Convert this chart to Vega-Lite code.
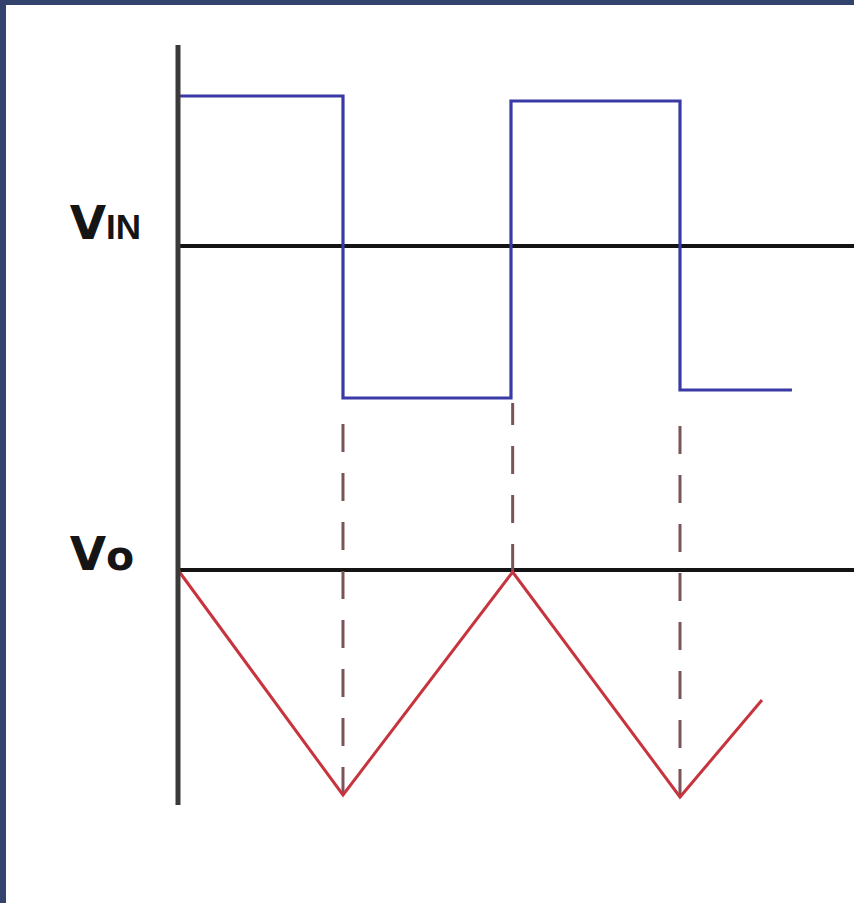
{
  "$schema": "https://vega.github.io/schema/vega-lite/v6.json",
  "width": 848,
  "height": 898,
  "autosize": "none",
  "padding": {"left": 6, "top": 5, "right": 0, "bottom": 0},
  "background": "#34426e",
  "config": {"view": {"stroke": null, "fill": "#ffffff"}},
  "datasets": {
    "axis": [{"t": 0, "v": 0.98, "v2": 8.58}],
    "baselines": [{"name": "VIN", "t": 0, "t2": 4.04, "v": 6.57}, {"name": "VO", "t": 0, "t2": 4.04, "v": 3.33}],
    "guides": [{"t": 0.986, "v": 1.08, "v2": 4.95}, {"t": 2.0, "v": 3.31, "v2": 5.0}, {"t": 3.0, "v": 1.06, "v2": 4.95}],
    "vin": [
      {"i": 0, "t": 0, "v": 8.07},
      {"i": 1, "t": 0.986, "v": 8.07},
      {"i": 2, "t": 0.986, "v": 5.05},
      {"i": 3, "t": 1.99, "v": 5.05},
      {"i": 4, "t": 1.99, "v": 8.02},
      {"i": 5, "t": 3.0, "v": 8.02},
      {"i": 6, "t": 3.0, "v": 5.13},
      {"i": 7, "t": 3.669, "v": 5.13}
    ],
    "vo": [
      {"i": 0, "t": 0, "v": 3.33},
      {"i": 1, "t": 0.986, "v": 1.08},
      {"i": 2, "t": 2.0, "v": 3.31},
      {"i": 3, "t": 3.0, "v": 1.06},
      {"i": 4, "t": 3.49, "v": 2.03}
    ],
    "bigV": [{"t": -0.43, "v": 6.64, "label": "V"}, {"t": -0.43, "v": 3.33, "label": "V"}],
    "subIN": [{"t": -0.43, "v": 6.64, "label": "IN"}],
    "subO": [{"t": -0.43, "v": 3.33, "label": "o"}]
  },
  "layer": [
    {
      "data": {"name": "baselines"},
      "mark": {"type": "rule", "color": "#141414", "strokeWidth": 4},
      "encoding": {
        "x": {"field": "t", "type": "quantitative", "scale": {"domain": [-1.02791, 4.03992], "nice": false, "zero": false}, "axis": null},
        "x2": {"field": "t2"},
        "y": {"field": "v", "type": "quantitative", "scale": {"domain": [0, 8.98], "nice": false, "zero": false}, "axis": null}
      }
    },
    {
      "data": {"name": "guides"},
      "mark": {"type": "rule", "color": "#7a5458", "strokeWidth": 3, "strokeDash": [28, 21]},
      "encoding": {
        "x": {"field": "t", "type": "quantitative"},
        "y": {"field": "v", "type": "quantitative"},
        "y2": {"field": "v2"}
      }
    },
    {
      "data": {"name": "vin"},
      "mark": {"type": "line", "color": "#3a3aa6", "strokeWidth": 3.2, "strokeJoin": "miter"},
      "encoding": {
        "x": {"field": "t", "type": "quantitative"},
        "y": {"field": "v", "type": "quantitative"},
        "order": {"field": "i", "type": "quantitative"}
      }
    },
    {
      "data": {"name": "vo"},
      "mark": {"type": "line", "color": "#c8343e", "strokeWidth": 3, "strokeJoin": "miter"},
      "encoding": {
        "x": {"field": "t", "type": "quantitative"},
        "y": {"field": "v", "type": "quantitative"},
        "order": {"field": "i", "type": "quantitative"}
      }
    },
    {
      "data": {"name": "axis"},
      "mark": {"type": "rule", "color": "#3a3a3a", "strokeWidth": 5},
      "encoding": {
        "x": {"field": "t", "type": "quantitative"},
        "y": {"field": "v", "type": "quantitative"},
        "y2": {"field": "v2"}
      }
    },
    {
      "data": {"name": "bigV"},
      "mark": {"type": "text", "font": "DejaVu Sans", "fontWeight": "bold", "fontSize": 47, "align": "right", "baseline": "alphabetic", "color": "#151515"},
      "encoding": {
        "x": {"field": "t", "type": "quantitative"},
        "y": {"field": "v", "type": "quantitative"},
        "text": {"field": "label"}
      }
    },
    {
      "data": {"name": "subIN"},
      "mark": {"type": "text", "font": "Liberation Sans", "fontWeight": "bold", "fontSize": 35, "align": "left", "baseline": "alphabetic", "color": "#151515"},
      "encoding": {
        "x": {"field": "t", "type": "quantitative"},
        "y": {"field": "v", "type": "quantitative"},
        "text": {"field": "label"}
      }
    },
    {
      "data": {"name": "subO"},
      "mark": {"type": "text", "font": "DejaVu Sans", "fontWeight": "bold", "fontSize": 41, "align": "left", "baseline": "alphabetic", "color": "#151515"},
      "encoding": {
        "x": {"field": "t", "type": "quantitative"},
        "y": {"field": "v", "type": "quantitative"},
        "text": {"field": "label"}
      }
    }
  ]
}
